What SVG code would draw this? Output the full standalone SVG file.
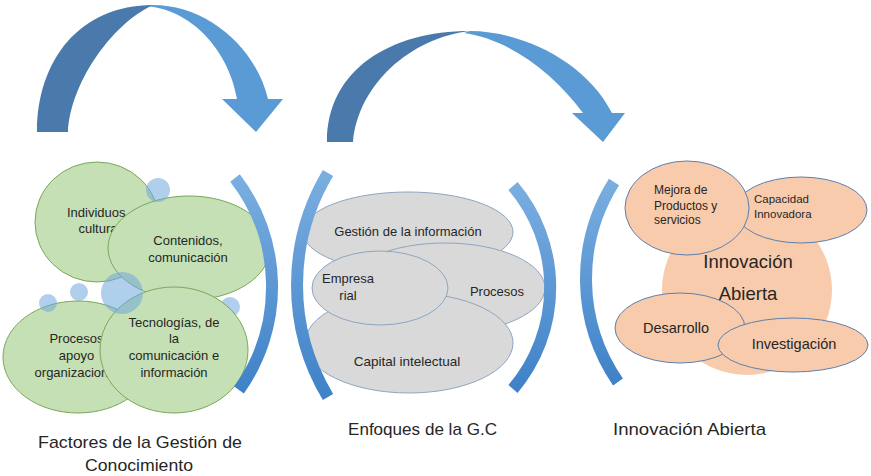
<svg xmlns="http://www.w3.org/2000/svg" width="871" height="476" viewBox="0 0 871 476">
<defs>
<linearGradient id="brk" x1="0" y1="0" x2="0" y2="1">
<stop offset="0" stop-color="#7aaee0"/>
<stop offset="1" stop-color="#3f82c8"/>
</linearGradient>
</defs>
<style>
.t{font-family:"Liberation Sans",Arial,sans-serif;fill:#262626;text-anchor:middle}
.l{font-family:"Liberation Sans",Arial,sans-serif;fill:#262626}
.g{fill:#c5e0b4;stroke:#79a85a;stroke-width:1}
.gr{fill:#d9d9d9;stroke:#8fa5c2;stroke-width:1}
.o{fill:#f8cbad;stroke:#5b80ad;stroke-width:1}
.b{fill:#6fa8dc;opacity:0.55}
.br{fill:none;stroke:url(#brk);stroke-width:12}
.dk{fill:#4a7aac}
.lt{fill:#5b9bd5}
</style>
<rect width="871" height="476" fill="#ffffff"/>

<g id="connectors">
<g id="arrow1">
<path class="lt" d="M153,5 C205,5 255,45 268,99 L283,99 L256,132 L222,99 L237,99 C230,55 195,10 146,6 Z"/>
<path class="dk" d="M37,132 C37,60 80,5 153,5 C110,25 70,85 68,132 Z"/>
</g>
<g id="arrow2">
<path class="lt" d="M470,31 C520,31 585,60 612,113 L625,113 L603,142 L572,113 L583,113 C553,72 508,39 464,33 Z"/>
<path class="dk" d="M327,142 C327,70 390,31 470,31 C410,38 358,85 353,142 Z"/>
</g>
</g>

<g id="factores">
<circle class="b" cx="230" cy="307" r="10"/>
<g id="n-individuos">
<ellipse class="g" cx="97" cy="222" rx="62" ry="60"/>
<text class="t" font-size="13"><tspan x="98" y="217">Individuos,</tspan><tspan x="98" y="233">cultura</tspan></text>
</g>
<g id="n-procesos-apoyo">
<ellipse class="g" cx="78" cy="357" rx="75" ry="56"/>
<text class="t" font-size="13"><tspan x="76.5" y="343">Procesos</tspan><tspan x="76.5" y="360">apoyo</tspan><tspan x="76.5" y="377">organizacional</tspan></text>
</g>
<g id="n-contenidos">
<ellipse class="g" cx="189" cy="248" rx="81" ry="52"/>
<text class="t" font-size="13"><tspan x="188" y="245">Contenidos,</tspan><tspan x="188" y="262">comunicación</tspan></text>
</g>
<g id="n-tecnologias">
<ellipse class="g" cx="174" cy="350" rx="74" ry="63"/>
<text class="t" font-size="13"><tspan x="174" y="327">Tecnologías, de</tspan><tspan x="174" y="343">la</tspan><tspan x="174" y="360">comunicación e</tspan><tspan x="174" y="377">información</tspan></text>
</g>
<circle class="b" cx="158" cy="190" r="12"/>
<circle class="b" cx="79" cy="292" r="9"/>
<circle class="b" cx="48" cy="303" r="9"/>
<circle class="b" cx="122" cy="293" r="21"/>
</g>

<g id="enfoques">
<g id="n-gestion">
<ellipse class="gr" cx="408" cy="232" rx="105" ry="40"/>
<text class="t" font-size="13" x="408" y="236">Gestión de la información</text>
</g>
<g id="n-procesos">
<ellipse class="gr" cx="445" cy="288" rx="100" ry="45"/>
<text class="t" font-size="13" x="497" y="296">Procesos</text>
</g>
<g id="n-capital">
<ellipse class="gr" cx="409" cy="343" rx="104" ry="50"/>
<text class="t" font-size="13.5" x="407" y="366">Capital intelectual</text>
</g>
<g id="n-empresarial">
<ellipse class="gr" cx="380" cy="288" rx="68" ry="37"/>
<text class="t" font-size="13"><tspan x="348" y="283">Empresa</tspan><tspan x="348" y="300">rial</tspan></text>
</g>
</g>

<g id="innovacion">
<g id="n-innovacion-abierta">
<circle cx="747" cy="290" r="85" fill="#f8cbad"/>
<text class="t" font-size="18.5"><tspan x="748" y="268">Innovación</tspan><tspan x="748" y="300">Abierta</tspan></text>
</g>
<g id="n-capacidad">
<ellipse class="o" cx="801" cy="210" rx="66" ry="33"/>
<text class="l" font-size="11.5"><tspan x="754" y="203">Capacidad</tspan><tspan x="754" y="218">Innovadora</tspan></text>
</g>
<g id="n-mejora">
<ellipse class="o" cx="687" cy="208" rx="62" ry="47"/>
<text class="l" font-size="12"><tspan x="654" y="194">Mejora de</tspan><tspan x="654" y="210">Productos y</tspan><tspan x="654" y="224">servicios</tspan></text>
</g>
<g id="n-desarrollo">
<ellipse class="o" cx="680" cy="328" rx="65" ry="35"/>
<text class="t" font-size="14.5" x="676" y="333">Desarrollo</text>
</g>
<g id="n-investigacion">
<ellipse class="o" cx="793" cy="345" rx="75" ry="27"/>
<text class="t" font-size="14.5" x="794" y="349">Investigación</text>
</g>
</g>

<g id="brackets">
<path class="br" d="M235,178 A178,178 0 0 1 239,390"/>
<path class="br" d="M328,173 A218,218 0 0 0 328,397"/>
<path class="br" d="M513,186 A157,157 0 0 1 513,389"/>
<path class="br" d="M614,182 A182,182 0 0 0 618,382"/>
</g>

<g id="labels">
<text class="l" font-size="17" x="38" y="448" textLength="204" lengthAdjust="spacingAndGlyphs">Factores de la Gestión de</text>
<text class="l" font-size="17" x="85" y="471" textLength="108" lengthAdjust="spacingAndGlyphs">Conocimiento</text>
<text class="l" font-size="17" x="348" y="435" textLength="149" lengthAdjust="spacingAndGlyphs">Enfoques de la G.C</text>
<text class="l" font-size="17" x="613" y="435" textLength="153" lengthAdjust="spacingAndGlyphs">Innovación Abierta</text>
</g>
</svg>
